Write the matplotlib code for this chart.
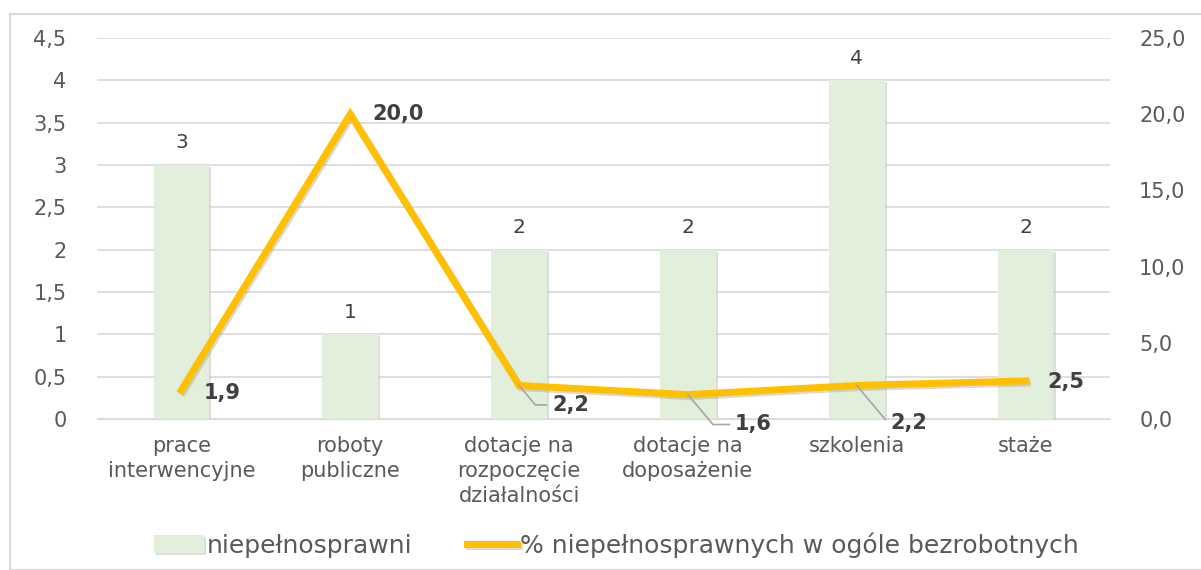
import matplotlib.pyplot as plt
import matplotlib.patheffects as pe
from matplotlib.patches import Rectangle
import numpy as np

categories = ["prace\ninterwencyjne", "roboty\npubliczne", "dotacje na\nrozpoczęcie\ndziałalności",
              "dotacje na\ndoposażenie", "szkolenia", "staże"]
niepelnosprawni = [3, 1, 2, 2, 4, 2]
procent = [1.9, 20.0, 2.2, 1.6, 2.2, 2.5]
left_ticks = [0, 0.5, 1, 1.5, 2, 2.5, 3, 3.5, 4, 4.5]
right_ticks = [0, 5, 10, 15, 20, 25]

grey = "#595959"
plt.rcParams['font.family'] = ['DejaVu Sans']

W, H = 1201, 570
fig = plt.figure(figsize=(W / 100, H / 100), dpi=100)
fig.patches.append(Rectangle((10 / W, 0), 1.2, 1 - 14 / H, transform=fig.transFigure,
                             fill=False, edgecolor="#d9d9d9", linewidth=1.5))
ax = fig.add_axes([97 / W, 1 - 419 / H, (1110 - 97) / W, (419 - 38) / H])
ax2 = ax.twinx()

x = np.arange(len(categories))
shadow = [pe.SimplePatchShadow(offset=(1.5, -1.5), shadow_rgbFace="#c8c8c8", alpha=0.6), pe.Normal()]
ax.bar(x, niepelnosprawni, width=0.33, color="#E2EFDA", zorder=2,
       path_effects=shadow, label="niepełnosprawni")
for xi, v in zip(x, niepelnosprawni):
    ax.text(xi, v + 0.15, str(v), ha="center", va="bottom", fontsize=14.5, color="#404040")

ax.set_xlim(-0.5, len(categories) - 0.5)
ax.set_ylim(0, 4.5)
ax.set_yticks(left_ticks)
ax.set_yticklabels([f"{t:g}".replace(".", ",") for t in left_ticks], fontsize=15, color=grey)
ax.grid(axis="y", color="#d9d9d9", linewidth=1.2, zorder=0)
ax.set_axisbelow(True)
ax.set_xticks(x)
ax.set_xticklabels(categories, fontsize=15, color=grey, linespacing=1.32)
ax.tick_params(axis="x", length=0, pad=12)
ax.tick_params(axis="y", length=0, pad=22)
for s in ax.spines.values():
    s.set_visible(False)
ax.spines["bottom"].set_visible(True)
ax.spines["bottom"].set_color("#d9d9d9")

line_shadow = [pe.SimpleLineShadow(offset=(1.2, -1.5), shadow_color="#a0a0a0", alpha=0.4), pe.Normal()]
ax2.plot(x, procent, color="#FFC000", linewidth=5, zorder=3, path_effects=line_shadow,
         solid_joinstyle="miter", label="% niepełnosprawnych w ogóle bezrobotnych")
ax2.set_ylim(0, 25)
ax2.set_yticks(right_ticks)
ax2.set_yticklabels([f"{t:.1f}".replace(".", ",") for t in right_ticks], fontsize=15, color=grey)
ax2.tick_params(length=0, pad=21)
for s in ax2.spines.values():
    s.set_visible(False)

# line data labels: offsets in points, leader lines for the crowded ones
offsets = [(16, -2, False), (16, 0, False), (24, -14, True), (34, -21.5, True), (24, -27, True), (16, -1, False)]
for xi, v, (dx, dy, leader) in zip(x, procent, offsets):
    lbl = f"{v:.1f}".replace(".", ",")
    arrow = None
    if leader:
        arrow = dict(arrowstyle="-", color="#a6a6a6", lw=1.2,
                     connectionstyle="angle,angleA=0,angleB=-50,rad=0", shrinkA=2, shrinkB=0)
    ax2.annotate(lbl, xy=(xi, v), xytext=(dx, dy), textcoords="offset points",
                 ha="left", va="center", fontsize=15, fontweight="bold", color="#404040",
                 arrowprops=arrow)

h1, l1 = ax.get_legend_handles_labels()
h2, l2 = ax2.get_legend_handles_labels()
fig.legend(h1 + h2, l1 + l2, loc="center", bbox_to_anchor=(0.513, 1 - 545 / H), ncol=2,
           frameon=False, fontsize=18, labelcolor=grey, handlelength=2.0, columnspacing=2.2,
           handletextpad=0.1)

plt.savefig("out.png", dpi=100)
